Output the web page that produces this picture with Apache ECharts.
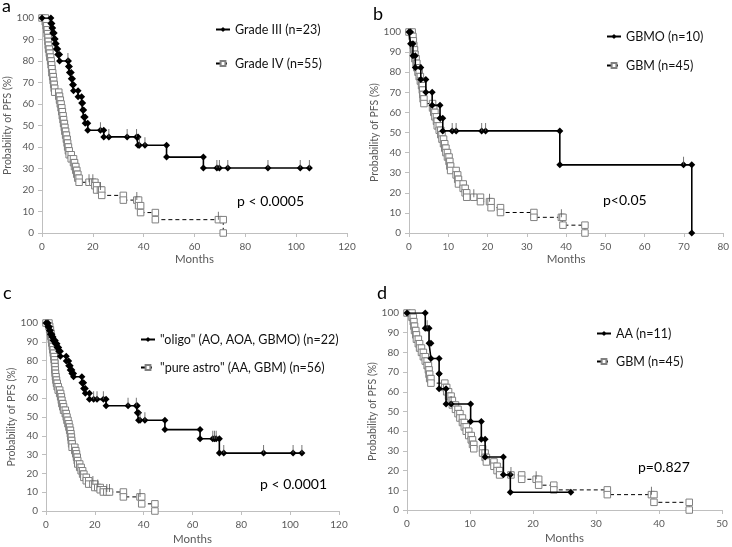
<!DOCTYPE html>
<html>
<head>
<meta charset="utf-8">
<script src="https://cdn.jsdelivr.net/npm/echarts@6/dist/echarts.min.js"></script>
<style>html,body{margin:0;padding:0;background:#fff}#c{width:732px;height:547px}</style>
</head>
<body>
<div id="c"></div>
<script>
// ---------- DATA (months, survival %) ----------
// Panel a
const aGrade3Events = [[3.5,97.4],[3.9,95.3],[4.2,93],[4.8,90.2],[5.2,88],[5.6,85.6],[6.2,83],[6.9,80],[10.4,77.4],[10.8,74.6],[11.5,71.8],[12,69],[12.4,66.2],[14.2,63.4],[15.6,60.5],[16,57.2],[16.4,54],[17,51],[18,47.8],[24.3,44.7],[37.8,40.8],[49,35.3],[63.5,30.2]];
const aGrade3Censors = [10.2,23,26.3,33.5,37.2,38.3,40.5,68.8,69.8,73.1,88.9,101.6,105.2];
const aGrade4Events = [[1.3,98.2],[1.6,96.4],[1.9,94.5],[2.1,92.7],[2.2,90.9],[2.4,89.1],[2.5,87.3],[2.6,85.5],[2.9,83.6],[3.1,81.8],[3.4,80],[3.6,78.2],[3.8,76.4],[3.9,74.5],[4.2,72.7],[4.4,70.9],[4.6,69.1],[4.8,67.3],[5.0,65.5],[6.6,63.6],[6.9,61.8],[7.2,60],[7.5,58.2],[7.8,56.4],[8.0,54.5],[8.3,52.7],[8.5,50.9],[8.8,49.1],[9.0,47.3],[9.3,45.5],[9.6,43.6],[9.9,41.8],[10.1,40],[10.4,38.2],[10.7,36.4],[11.5,34.5],[12.4,32.7],[12.8,30.9],[13.3,29.1],[13.7,27.3],[14.1,25.5],[14.6,23.6],[20.8,22],[21.5,20],[23.5,17.5],[32,15.3],[38,12.7],[38.8,9.5],[44.6,6.2],[71.3,0]];
const aGrade4Censors = [18.5,20,23,37.3,69.4];
// Panel b
const bGbmoEvents = [[0.4,94.1],[1.0,88.2],[1.6,82.3],[3.0,76.4],[4.3,70],[5.9,63.5],[7.9,57.1],[8.6,50.8],[38.4,33.9],[72,0]];
const bGbmoCensors = [11,12,18.5,19.5,69.9];
// GBM (n=45), used in panels b and d
const gbmEvents = [[0.8,97.8],[1.0,95.6],[1.1,93.3],[1.2,91.1],[1.4,88.9],[1.5,86.7],[1.8,84.4],[2.0,82.2],[2.3,80],[2.6,77.8],[2.9,75.6],[3.2,73.3],[3.4,71.1],[3.5,68.9],[3.6,66.7],[3.8,64.4],[6.0,62.2],[6.3,60],[6.6,57.8],[7.0,55.6],[7.2,53.3],[7.7,51.1],[8.1,48.9],[8.4,46.7],[8.8,44.4],[9.1,42.2],[9.4,40],[9.8,37.8],[10.2,35.6],[10.4,33.3],[10.6,31.1],[12.0,28.9],[12.4,26.7],[12.6,24.4],[13.8,22.2],[14.3,20],[14.7,17.8],[18.2,15.6],[20.9,12.6],[23.3,10.2],[31.8,7.8],[39.2,3.9],[44.8,0]];
const gbmCensors = [16.5,20.5,38.8];
// Panel c
const cOligoEvents = [[0.8,98],[1.4,96],[1.8,94],[2.4,92.6],[2.9,90.7],[3.8,89],[4.5,87],[5.2,85],[5.9,82.3],[8.3,79.8],[9.3,77.2],[9.9,75],[10.6,73.2],[11.3,71.4],[14.7,68.2],[15.4,65.2],[16.1,62.6],[17.8,59.4],[24.6,56],[37.4,52.2],[37.9,48.3],[48.7,43.3],[63.1,38.4],[71,30.8]];
const cOligoCensors = [19.5,20.9,23.5,33.6,37,38.5,40.5,68.3,69,69.7,72.8,89.1,101.2,104.8];
const cAstroEvents = [[1.2,98.2],[1.5,96.4],[1.8,94.6],[2.0,92.9],[2.2,91.1],[2.4,89.3],[2.6,87.5],[2.8,85.7],[3.0,83.9],[3.2,82.1],[3.4,80.4],[3.5,78.6],[3.6,76.8],[3.7,75],[3.8,73.2],[3.9,71.4],[4.1,69.6],[4.3,67.9],[4.6,66.1],[5.0,64.3],[5.6,62.5],[6.0,60.7],[6.3,58.9],[6.5,57.1],[6.9,55.4],[7.2,53.6],[7.9,51.8],[8.3,50],[8.6,48.2],[9.0,46.4],[9.4,44.6],[9.7,42.9],[10.0,41.1],[10.2,39.3],[10.4,37.5],[10.5,35.7],[10.7,33.9],[11.8,32.1],[12.2,30.4],[12.5,28.6],[12.8,26.8],[13.0,25],[13.8,23.2],[14.4,21.4],[15.0,19.6],[15.5,17.9],[16.5,16.1],[17.5,14.3],[20.0,12.5],[22.2,11.3],[23.5,10.1],[31.7,7.5],[39.2,3.8],[44.6,0]];
const cAstroCensors = [19.2,21.2,24.9,26,38.5];
// Panel d
const dAaEvents = [[2.9,92.3],[3.5,84.6],[3.8,76.9],[5.1,69.2],[5.1,61.5],[6.2,53.8],[10.1,44.9],[11.8,35.9],[12.4,26.9],[15.3,17.9],[16.4,9.0]];
const dAaCensors = [3.2,7.0];
const dAaLast = 26;

// Axis settings
const xMaxes = [120, 80, 120, 50];
const xSteps = [20, 10, 20, 10];
const names = {
  a1:'Grade III (n=23)', a2:'Grade IV (n=55)',
  b1:'GBMO (n=10)', b2:'GBM (n=45)',
  c1:'"oligo" (AO, AOA, GBMO) (n=22)', c2:'"pure astro" (AA, GBM) (n=56)',
  d1:'AA (n=11)', d2:'GBM (n=45)'
};
const pTexts = ['p < 0.0005','p<0.05','p < 0.0001','p=0.827'];
const panelLetters = ['a','b','c','d'];

// ---------- BUILD ----------
const FONT = 'Lato, "Open Sans", sans-serif';
function km(events, censors, last) {
  const items = events.map(e => ({t:e[0], s:e[1], ev:true}))
    .concat(censors.map(t => ({t:t, ev:false})));
  items.sort((a,b) => a.t - b.t);
  let cur = 100; const pts = [[0,100]]; const ticks = [];
  items.forEach(it => {
    if (it.ev) { pts.push([it.t, cur]); cur = it.s; pts.push([it.t, cur]); }
    else { pts.push([it.t, cur]); ticks.push([it.t, cur]); }
  });
  if (last != null) pts.push([last, cur]);
  return {pts, ticks};
}
const solidStyle = {
  symbol:'diamond', symbolSize:7,
  itemStyle:{color:'#000'},
  lineStyle:{color:'#000', width:1.6}
};
const dashStyle = {
  symbol:'rect', symbolSize:6.5,
  itemStyle:{color:'#fff', borderColor:'#808080', borderWidth:1},
  lineStyle:{color:'#000', width:1, type:[4,3]}
};
const series = [];
function addKM(name, gi, events, censors, last, st) {
  const r = km(events, censors, last);
  series.push(Object.assign({
    type:'line', name:name, xAxisIndex:gi, yAxisIndex:gi, data:r.pts,
    showAllSymbol:true, animation:false, z: st === solidStyle ? 4 : 3
  }, JSON.parse(JSON.stringify(st))));
  series.push({
    type:'scatter', name:name + ' censored', xAxisIndex:gi, yAxisIndex:gi, data:r.ticks,
    symbol:'rect', symbolSize:[1,8], symbolOffset:[0,-4], silent:true,
    itemStyle:{color:'#555'}, z:5, animation:false
  });
}
addKM(names.a2, 0, aGrade4Events, aGrade4Censors, null, dashStyle);
addKM(names.a1, 0, aGrade3Events, aGrade3Censors, null, solidStyle);
addKM(names.b2, 1, gbmEvents, gbmCensors, null, dashStyle);
addKM(names.b1, 1, bGbmoEvents, bGbmoCensors, null, solidStyle);
addKM(names.c2, 2, cAstroEvents, cAstroCensors, null, dashStyle);
addKM(names.c1, 2, cOligoEvents, cOligoCensors, null, solidStyle);
addKM(names.d2, 3, gbmEvents, gbmCensors, null, dashStyle);
addKM(names.d1, 3, dAaEvents, dAaCensors, dAaLast, solidStyle);

const grids = [
  {left:42, top:18, width:305, height:215},
  {left:409, top:32, width:315, height:201},
  {left:46, top:323, width:293, height:188},
  {left:407, top:313, width:315, height:197}
];
const xNameGaps = [18, 18, 22, 22];
const axisCol = '#bfbfbf', labCol = '#595959';
const xAxes = grids.map((g,i) => ({
  type:'value', gridIndex:i, min:0, max:xMaxes[i], interval:xSteps[i],
  name:'Months', nameLocation:'middle', nameGap:xNameGaps[i],
  nameTextStyle:{fontFamily:FONT, fontSize:11.5, color:labCol},
  axisLine:{show:true, lineStyle:{color:axisCol}},
  axisTick:{show:true, length:4, lineStyle:{color:axisCol}},
  splitLine:{show:false},
  axisLabel:{fontFamily:FONT, fontSize:10, color:labCol, margin:9}
}));
const yAxes = grids.map((g,i) => ({
  type:'value', gridIndex:i, min:0, max:100, interval:10,
  name:'Probability of PFS (%)', nameLocation:'middle', nameGap:29,
  nameTextStyle:{fontFamily:FONT, fontSize:10.5, color:labCol},
  axisLine:{show:true, lineStyle:{color:axisCol}},
  axisTick:{show:true, length:4, lineStyle:{color:axisCol}},
  splitLine:{show:false},
  axisLabel:{fontFamily:FONT, fontSize:10, color:labCol, margin:8}
}));

const legendPos = [
  [names.a1, 210, 26],[names.a2, 210, 60],
  [names.b1, 601, 33],[names.b2, 601, 62],
  [names.c1, 135, 336],[names.c2, 135, 364],
  [names.d1, 591, 330],[names.d2, 591, 358]
];
const legends = legendPos.map(l => ({
  data:[l[0]], left:l[1], top:l[2] - 8, itemWidth:14, itemHeight:6, itemGap:0,
  textStyle:{fontFamily:FONT, fontSize:12.5, color:'#111'}, selectedMode:false
}));

const pPos = [[237,201],[603,200],[260,484],[638,467]];
const letterPos = [[2,6.5],[373,14.5],[3,293.5],[377,293.5]];
const graphics = [];
pTexts.forEach((t,i) => graphics.push({type:'text', x:pPos[i][0], y:pPos[i][1],
  style:{text:t, font:'14px ' + FONT, fill:'#000', textVerticalAlign:'middle'}}));
panelLetters.forEach((t,i) => graphics.push({type:'text', x:letterPos[i][0], y:letterPos[i][1],
  style:{text:t, font:'18px ' + FONT, fill:'#000', textVerticalAlign:'middle'}}));

const chart = echarts.init(document.getElementById('c'));
chart.setOption({
  animation:false,
  backgroundColor:'#fff',
  grid:grids, xAxis:xAxes, yAxis:yAxes,
  legend:legends, series:series, graphic:graphics
});
</script>
</body>
</html>
